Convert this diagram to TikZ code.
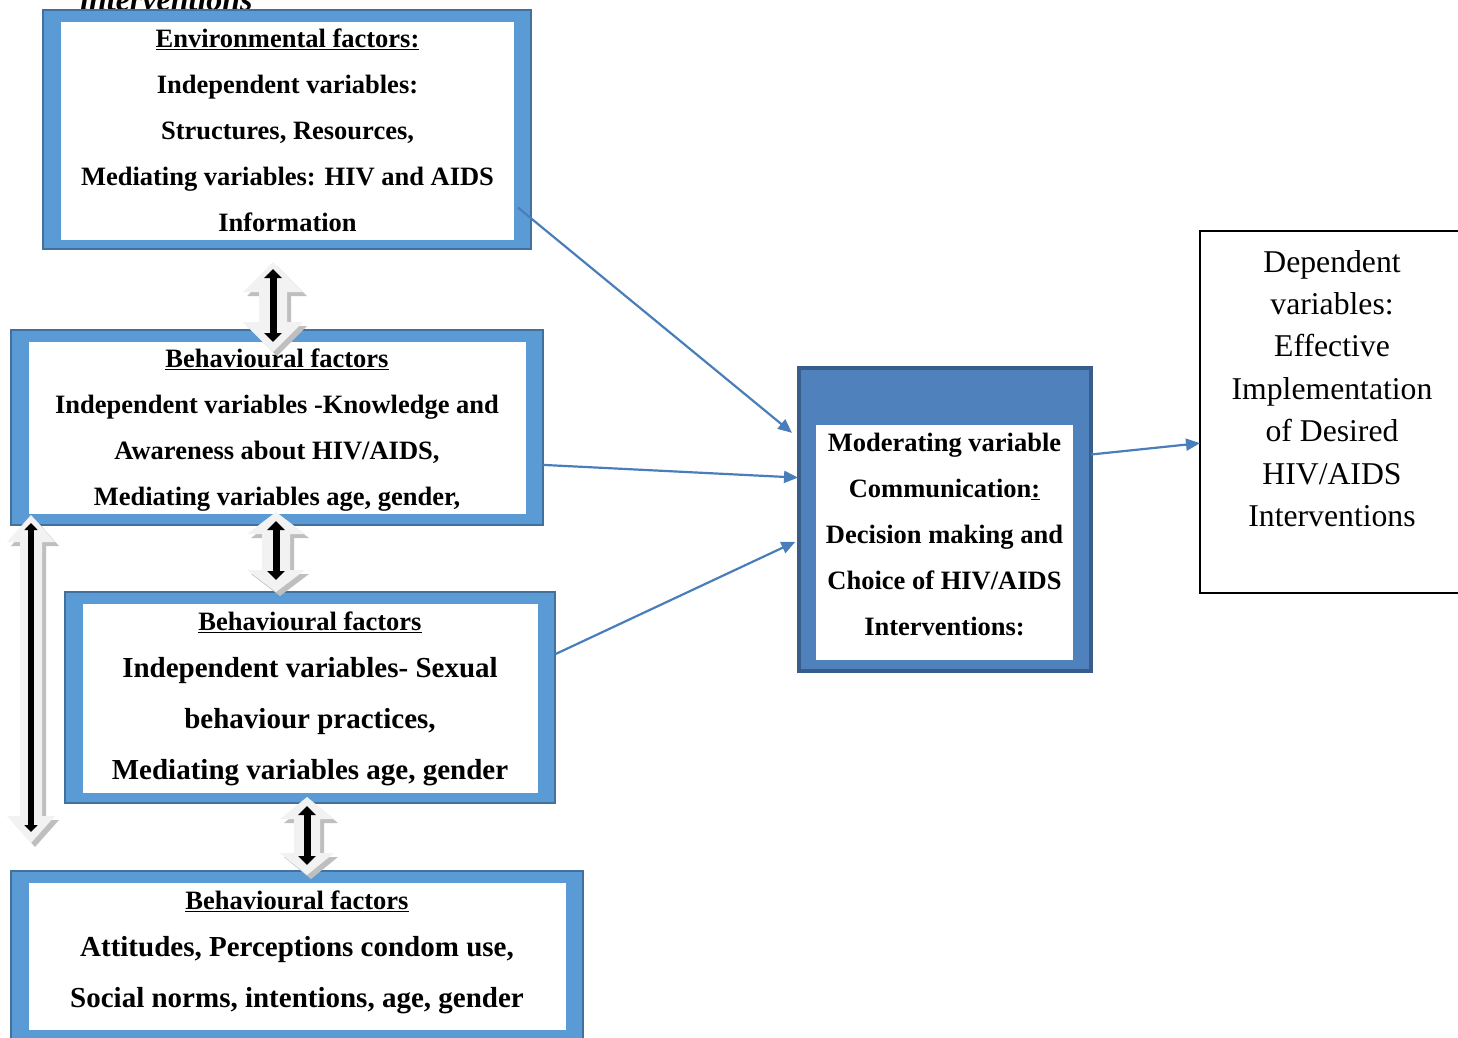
\documentclass[tikz,border=0pt]{standalone}
\usepackage{fontspec}
\setmainfont{Liberation Serif}
\usetikzlibrary{arrows.meta,calc}
\definecolor{boxblue}{HTML}{5B9BD5}
\definecolor{boxdark}{HTML}{41719C}
\definecolor{modfill}{HTML}{4F81BD}
\definecolor{moddark}{HTML}{385D8A}
\definecolor{arrblue}{HTML}{4A7EBB}
\definecolor{blockfill}{HTML}{F2F2F2}
\definecolor{blockshadow}{HTML}{BFBFBF}
\tikzset{
  outerbox/.style={draw=boxdark, fill=boxblue, line width=1.2pt, outer sep=0pt, inner sep=0pt},
  innerbox/.style={fill=white, outer sep=0pt, inner sep=0pt},
  btext/.style={align=center, inner sep=0pt, font=\fontsize{26.5}{46}\selectfont\bfseries},
  bigtext/.style={align=center, inner sep=0pt, font=\fontsize{29}{51}\selectfont\bfseries},
  conn/.style={draw=arrblue, line width=2.2pt, -{Triangle[length=14pt,width=12pt]}},
  blackdbl/.style={line width=7pt, {Triangle[length=9pt,width=17pt]}-{Triangle[length=9pt,width=17pt]}}
}
% cx, top, bottom, head half width, head length, shaft half width
\newcommand\myblockarrow[6]{%
  \foreach \dx/\dy/\col in {4/4/blockshadow,0/0/blockfill}{%
    \fill[\col, shift={(\dx,\dy)}] ({#1},{#2}) -- ({#1+#4},{#2+#5}) -- ({#1+#6},{#2+#5})
      -- ({#1+#6},{#3-#5}) -- ({#1+#4},{#3-#5}) -- ({#1},{#3}) -- ({#1-#4},{#3-#5})
      -- ({#1-#6},{#3-#5}) -- ({#1-#6},{#2+#5}) -- ({#1-#4},{#2+#5}) -- cycle;}%
}
\begin{document}
\begin{tikzpicture}[x=1pt,y=-1pt]
\useasboundingbox (0,0) rectangle (1458,1037);
\fill[white] (0,0) rectangle (1458,1037);

% cut-off title at the top
\node[anchor=base west, inner sep=0pt, font=\fontsize{32}{36}\selectfont\bfseries\itshape] (title) at (80,10) {interventions};

% Environmental factors
\node[outerbox, minimum width=488, minimum height=239] (env) at (287,129.5) {};
\node[innerbox, minimum width=453, minimum height=218] (envin) at (287.5,131) {};
\node[btext] (envtext) at (287.5,130) {\underline{Environmental factors:}\\Independent variables:\\Structures, Resources,\\Mediating variables: HIV and AIDS\\Information};

% Behavioural factors 1
\node[outerbox, minimum width=532, minimum height=195] (beha) at (277,427.5) {};
\node[innerbox, minimum width=497, minimum height=172] (behain) at (277.5,428) {};
\node[btext] (behatext) at (277,430) {\underline{Behavioural factors}\\Independent variables -Knowledge and\\Awareness about HIV/AIDS,\\Mediating variables age, gender,};

% Behavioural factors 2
\node[outerbox, minimum width=490, minimum height=211] (behb) at (310,697.5) {};
\node[innerbox, minimum width=455, minimum height=189] (behbin) at (310.5,698.5) {};
\node[bigtext] (behbtext) at (310,699) {{\fontsize{26.5}{46}\selectfont\underline{Behavioural factors}}\\[-4pt]Independent variables- Sexual\\behaviour practices,\\Mediating variables age, gender};

% Behavioural factors 3
\node[outerbox, minimum width=572, minimum height=179] (behc) at (297,960.5) {};
\node[innerbox, minimum width=537, minimum height=147] (behcin) at (297.5,956.5) {};
\node[bigtext] (behctext) at (297,952) {{\fontsize{26.5}{46}\selectfont\underline{Behavioural factors}}\\[-4pt]Attitudes, Perceptions condom use,\\Social norms, intentions, age, gender};

% Moderating variable
\node[draw=moddark, fill=modfill, line width=4pt, outer sep=0pt, minimum width=292, minimum height=303] (mod) at (945,519.5) {};
\node[innerbox, minimum width=257, minimum height=235] (modin) at (944.5,542.5) {};
\node[btext] (modtext) at (944.5,534) {Moderating variable\\Communication\underline{:}\\Decision making and\\Choice of HIV/AIDS\\Interventions:};

% Dependent variables
\node[draw=black, line width=2pt, outer sep=0pt, minimum width=270, minimum height=362] (dep) at (1335,412) {};
\node[align=center, inner sep=0pt, font=\fontsize{31.7}{42.4}\selectfont] (deptext) at (1332,388.5) {Dependent\\variables:\\Effective\\Implementation\\of Desired\\HIV/AIDS\\Interventions};

% connectors
\draw[conn, shorten <=-17pt, shorten >=9pt] (env.-20) -- (mod.151.4);
\draw[conn, shorten >=1pt] (beha.-8.66) -- (mod.164.3);
\draw[conn, shorten >=4pt] (behb.10.07) -- (mod.188.3);
\draw[conn] (mod.24.2) -- (dep.193.3);

% double block arrows
\myblockarrow{273}{262}{352}{30}{30}{14}
\draw[blackdbl] (273,269) -- (273,342);
\myblockarrow{276}{512}{592}{29}{22}{14}
\draw[blackdbl] (276,521) -- (276,580);
\myblockarrow{307}{797}{875}{27}{22}{13}
\draw[blackdbl] (307,806) -- (307,865);
\myblockarrow{31}{515}{843}{24}{27}{11}
\draw[line width=6pt, {Triangle[length=7pt,width=13pt]}-{Triangle[length=7pt,width=13pt]}] (31,523) -- (31,832);
\end{tikzpicture}
\end{document}
